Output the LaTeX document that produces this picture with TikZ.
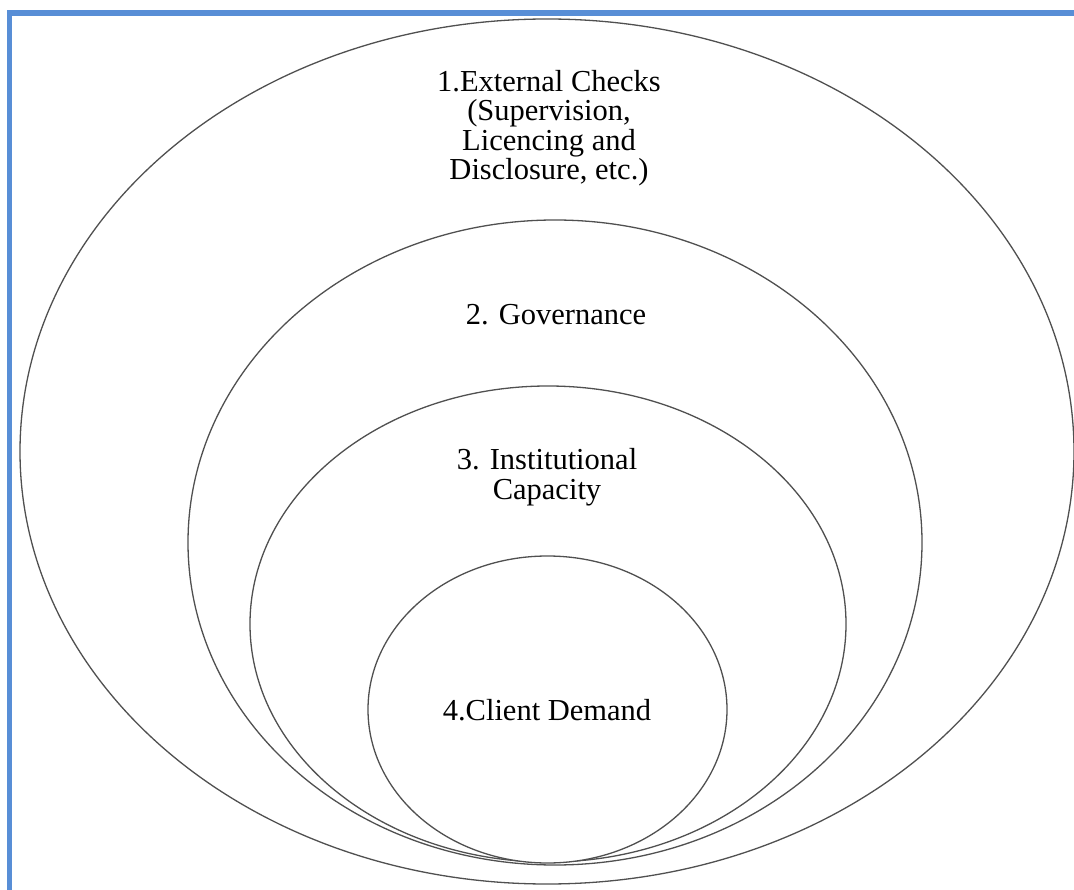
\documentclass[tikz,border=0pt]{standalone}
\usepackage{fontspec}
\setmainfont{Liberation Serif}
\usetikzlibrary{shapes.geometric}
\definecolor{frameblue}{RGB}{88,142,214}
\definecolor{ringgray}{RGB}{80,80,80}
\tikzset{
  ring/.style={ellipse, draw=ringgray, line width=1.3pt, fill=white, inner sep=0pt},
  lbl/.style={align=center, font=\fontsize{30.5}{29.5}\selectfont, inner sep=0pt},
  frameline/.style={draw=frameblue, line width=5.5pt}
}
\begin{document}
\begin{tikzpicture}[x=1pt,y=-1pt]
\useasboundingbox (0,0) rectangle (1074,890);
\fill[white] (0,0) rectangle (1074,890);
\node[ring, minimum width=1054pt, minimum height=865pt] (r1) at (547,451.5) {};
\node[ring, minimum width=734pt, minimum height=645pt] (r2) at (555,542.5) {};
\node[ring, minimum width=596pt, minimum height=476pt] (r3) at (548,624) {};
\node[ring, minimum width=359pt, minimum height=307pt] (r4) at (547.5,709.5) {};
\node[lbl] (t1) at (549,128) {1.External Checks\\(Supervision,\\Licencing and\\Disclosure, etc.)};
\node[lbl] (t2) at (556,315) {2. Governance};
\node[lbl] (t3) at (547,477) {3. Institutional\\Capacity};
\node[lbl] (t4) at (547,710) {4.Client Demand};
\coordinate (ftl) at (9.5,13);
\coordinate (ftr) at (1074,13);
\coordinate (fbl) at (9.5,890);
\draw[frameline] (fbl) -- (ftl) -- (ftr);
\end{tikzpicture}
\end{document}
